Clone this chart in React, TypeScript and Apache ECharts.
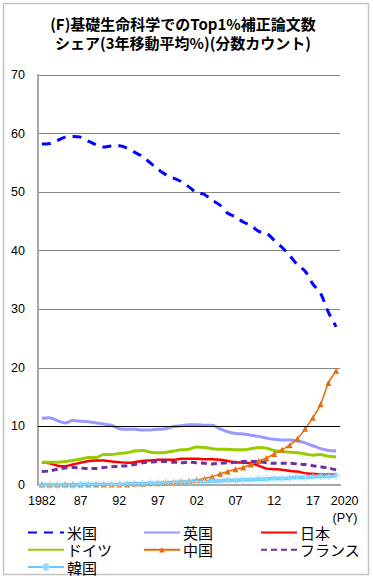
import React, { useEffect, useRef } from "react";
import * as echarts from "echarts";

const years = [
  "1982","1983","1984","1985","1986","1987","1988","1989","1990","1991",
  "1992","1993","1994","1995","1996","1997","1998","1999","2000","2001",
  "2002","2003","2004","2005","2006","2007","2008","2009","2010","2011",
  "2012","2013","2014","2015","2016","2017","2018","2019","2020",
];

const usa = [
  58.2, 58.3, 58.8, 59.4, 59.5, 59.4, 58.7, 58.1, 57.7, 57.9,
  57.9, 57.5, 56.8, 56.1, 55.0, 53.9, 53.0, 52.4, 51.8, 50.9,
  49.9, 49.6, 48.6, 47.8, 46.4, 45.8, 44.9, 44.3, 43.3, 43.0,
  41.8, 40.6, 39.2, 37.6, 36.5, 34.3, 32.7, 29.5, 27.0,
];
const uk = [
  11.4, 11.5, 11.0, 10.6, 11.0, 10.9, 10.8, 10.6, 10.4, 10.2,
  9.6, 9.5, 9.5, 9.4, 9.4, 9.5, 9.6, 10.0, 10.1, 10.3,
  10.3, 10.2, 10.2, 9.6, 9.1, 8.8, 8.7, 8.5, 8.3, 8.0,
  7.8, 7.7, 7.7, 7.5, 7.2, 6.7, 6.2, 5.9, 5.8,
];
const japan = [
  3.9, 3.7, 3.3, 3.2, 3.5, 3.8, 4.1, 4.2, 4.2, 4.0,
  3.9, 3.8, 3.9, 4.1, 4.2, 4.3, 4.3, 4.3, 4.5, 4.5,
  4.5, 4.4, 4.4, 4.3, 4.1, 3.9, 3.8, 3.7, 3.3, 2.8,
  2.7, 2.6, 2.4, 2.3, 2.0, 1.9, 1.8, 1.8, 1.8,
];
const germany = [
  3.9, 3.9, 3.9, 4.0, 4.2, 4.4, 4.7, 4.7, 5.2, 5.2,
  5.4, 5.5, 5.8, 5.9, 5.6, 5.5, 5.6, 5.8, 6.0, 6.1,
  6.5, 6.4, 6.2, 6.1, 6.1, 6.0, 6.0, 6.2, 6.4, 6.3,
  5.9, 5.7, 5.6, 5.5, 5.3, 5.1, 5.2, 4.9, 4.8,
];
const china = [
  0.1, 0.1, 0.1, 0.1, 0.1, 0.1, 0.1, 0.1, 0.1, 0.1,
  0.1, 0.1, 0.2, 0.2, 0.3, 0.3, 0.4, 0.5, 0.6, 0.7,
  0.9, 1.1, 1.4, 1.9, 2.3, 2.7, 3.0, 3.5, 4.1, 4.6,
  5.3, 6.0, 6.8, 7.9, 9.6, 11.5, 13.8, 17.4, 19.5,
];
const france = [
  2.3, 2.4, 2.7, 2.9, 3.0, 2.9, 2.8, 2.8, 3.0, 3.1,
  3.2, 3.3, 3.5, 3.8, 3.9, 4.0, 4.0, 3.9, 3.8, 3.9,
  3.8, 3.7, 3.6, 3.7, 3.8, 3.9, 4.0, 4.0, 4.0, 3.8,
  3.7, 3.7, 3.7, 3.6, 3.5, 3.3, 3.1, 2.9, 2.6,
];
const korea = [
  0.0, 0.0, 0.0, 0.0, 0.0, 0.1, 0.1, 0.1, 0.1, 0.1,
  0.1, 0.2, 0.2, 0.2, 0.3, 0.3, 0.4, 0.4, 0.5, 0.5,
  0.6, 0.6, 0.7, 0.7, 0.8, 0.8, 0.9, 0.9, 1.0, 1.0,
  1.1, 1.1, 1.2, 1.3, 1.3, 1.4, 1.5, 1.5, 1.6,
];

const titleLines = [
  "(F)基礎生命科学でのTop1%補正論文数",
  "シェア(3年移動平均%)(分数カウント)",
];
const unitLabel = "(PY)";

const JP = '"Noto Sans CJK JP", sans-serif';
const NUM = '"Liberation Sans", Arial, sans-serif';

const asterisk =
  "path://M5,0L5,10M0,5L10,5M1.5,1.5L8.5,8.5M1.5,8.5L8.5,1.5";

// legend slots: [name, column x, row top, icon height, show symbol]
const legendSlots: [string, number, number, number, boolean][] = [
  ["米国", 27, 524, 7, false],
  ["英国", 143, 524, 7, false],
  ["日本", 260, 524, 7, false],
  ["ドイツ", 27, 541.3, 7, false],
  ["中国", 143, 541.3, 7, true],
  ["フランス", 260, 541.3, 7, false],
  ["韓国", 27, 558.6, 10, true],
];

export default function App() {
  const ref = useRef<HTMLDivElement>(null);

  useEffect(() => {
    if (!ref.current) return;
    const chart = echarts.init(ref.current, undefined, { renderer: "svg" });
    const last = years.length - 1;

    const legends = legendSlots.map(([name, left, top, h, sym]) => ({
      left,
      top,
      orient: "horizontal",
      itemWidth: 36,
      itemHeight: h,
      selectedMode: false,
      padding: 0,
      data: [sym ? { name } : { name, itemStyle: { opacity: 0 } }],
      textStyle: {
        fontFamily: JP,
        fontSize: 15,
        color: "#000",
        lineHeight: 17,
        padding: [0, 0, 0, -2],
      },
    }));

    chart.setOption({
      animation: false,
      backgroundColor: "#fff",
      graphic: [
        {
          type: "rect",
          shape: { x: 3.5, y: 3.5, width: 365, height: 571 },
          style: { fill: "none", stroke: "#c4c4c4", lineWidth: 1.5 },
          silent: true,
        },
        {
          type: "text",
          x: 183,
          y: 23.5,
          style: {
            text: titleLines[0],
            fontFamily: JP,
            fontSize: 15,
            fontWeight: "bold",
            fill: "#000",
            align: "center",
            verticalAlign: "middle",
          },
        },
        {
          type: "text",
          x: 183,
          y: 42.5,
          style: {
            text: titleLines[1],
            fontFamily: JP,
            fontSize: 15,
            fontWeight: "bold",
            fill: "#000",
            align: "center",
            verticalAlign: "middle",
          },
        },
        {
          type: "text",
          x: 345,
          y: 518,
          style: {
            text: unitLabel,
            fontFamily: NUM,
            fontSize: 12.5,
            fill: "#000",
            align: "center",
            verticalAlign: "middle",
          },
        },
      ],
      grid: { left: 38, right: 33, top: 75, bottom: 95, containLabel: false },
      legend: legends,
      xAxis: {
        type: "category",
        data: years,
        boundaryGap: true,
        axisLine: { show: true, lineStyle: { color: "#a6a6a6", width: 2 } },
        axisTick: { show: false },
        axisLabel: {
          interval: (i: number) => i % 5 === 0 || i === last,
          margin: 9,
          fontFamily: NUM,
          fontSize: 12.5,
          color: "#000",
          formatter: (v: string, i: number) => {
            if (i === 0) return v;
            if (i === last) return "{r|" + v + "}";
            return v.slice(2);
          },
          rich: { r: { padding: [0, 0, 0, 17], fontFamily: NUM, fontSize: 12.5, color: "#000" } },
        },
        splitLine: { show: false },
      },
      yAxis: {
        type: "value",
        min: 0,
        max: 70,
        interval: 10,
        axisLine: { show: true, lineStyle: { color: "#a6a6a6", width: 2 } },
        axisTick: { show: false },
        axisLabel: { margin: 13, fontFamily: NUM, fontSize: 12.5, color: "#000" },
        splitLine: { show: true, lineStyle: { color: "#858585", width: 1 } },
      },
      series: [
        {
          name: "米国",
          type: "line",
          data: usa,
          symbol: "none",
          smooth: 0.3,
          lineStyle: { color: "#0000ff", width: 3, type: [9, 7] },
          itemStyle: { color: "#0000ff" },
          markLine: {
            silent: true,
            symbol: "none",
            label: { show: false },
            lineStyle: { color: "#000", width: 1, type: "solid" },
            data: [{ yAxis: 10 }],
          },
        },
        {
          name: "英国",
          type: "line",
          data: uk,
          symbol: "none",
          smooth: 0.3,
          lineStyle: { color: "#9999ff", width: 3 },
          itemStyle: { color: "#9999ff" },
        },
        {
          name: "日本",
          type: "line",
          data: japan,
          symbol: "none",
          smooth: 0.3,
          lineStyle: { color: "#ff0000", width: 2.5 },
          itemStyle: { color: "#ff0000" },
        },
        {
          name: "ドイツ",
          type: "line",
          data: germany,
          symbol: "none",
          smooth: 0.3,
          lineStyle: { color: "#99cc00", width: 3 },
          itemStyle: { color: "#99cc00" },
        },
        {
          name: "中国",
          type: "line",
          data: china,
          symbol: "triangle",
          symbolSize: 6,
          showAllSymbol: true,
          smooth: 0.3,
          lineStyle: { color: "#e46c0a", width: 1.5 },
          itemStyle: { color: "#e46c0a" },
        },
        {
          name: "フランス",
          type: "line",
          data: france,
          symbol: "none",
          smooth: 0.3,
          lineStyle: { color: "#7030a0", width: 3, type: [6, 4] },
          itemStyle: { color: "#7030a0" },
        },
        {
          name: "韓国",
          type: "line",
          data: korea,
          symbol: asterisk,
          symbolSize: 8,
          showAllSymbol: true,
          smooth: 0.3,
          lineStyle: { color: "#66ccff", width: 3.5 },
          itemStyle: { color: "#66ccff", borderColor: "#8fdcff", borderWidth: 1 },
        },
      ],
    });

    return () => chart.dispose();
  }, []);

  return (
    <div
      ref={ref}
      style={{ position: "fixed", left: 0, top: 0, width: 373, height: 580, background: "#fff" }}
    />
  );
}
